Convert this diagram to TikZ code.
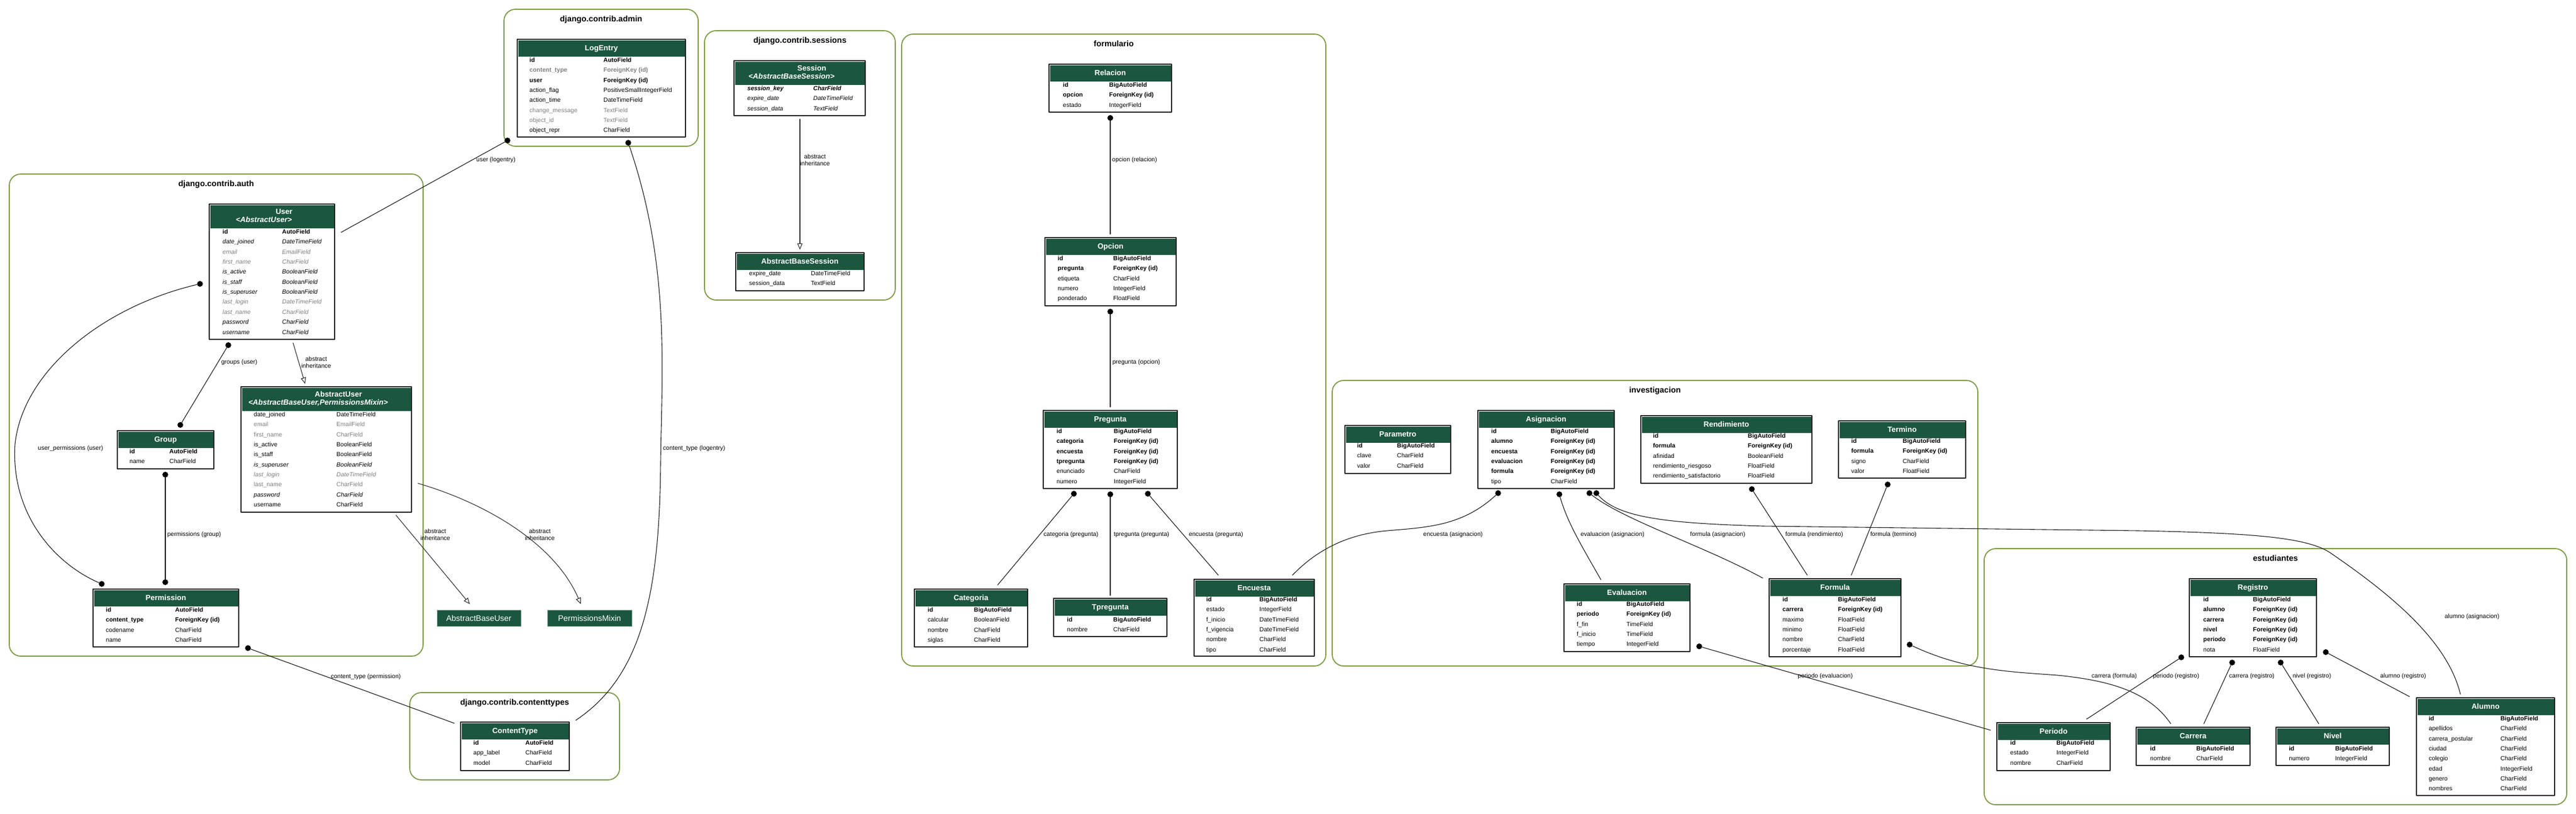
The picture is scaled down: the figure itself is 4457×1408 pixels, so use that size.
\documentclass[tikz,border=0pt]{standalone}
\usepackage{fontspec}
\setmainfont{Liberation Sans}
\usetikzlibrary{arrows.meta}

\definecolor{hdrgreen}{HTML}{1B563F}
\definecolor{clustergreen}{HTML}{7D9B45}
\definecolor{fieldgray}{HTML}{808080}
\definecolor{linkgray}{HTML}{1A1A1A}

\newcommand\rowf{\fontsize{10.5}{12}\selectfont}
\newcommand\hdrf{\fontsize{13}{14}\selectfont}
\newcommand\clf{\fontsize{14}{16}\selectfont\bfseries}

\tikzset{
  cluster/.style={draw=clustergreen, line width=1.8pt, rounded corners=20pt},
  cltitle/.style={anchor=base, inner sep=0, font=\clf},
  tblbox/.style={rectangle, draw={rgb,255:red,35;green,35;blue,35}, line width=1.8pt, fill=white, inner sep=0},
  hdrtxt/.style={anchor=base, inner sep=0, text=white, font=\hdrf\bfseries},
  plainbox/.style={rectangle, fill=hdrgreen, draw={rgb,255:red,120;green,160;blue,140}, line width=0.8pt, text=white, font=\fontsize{14}{16}\selectfont, inner sep=0},
  fld/.style={anchor=base west, inner sep=0},
  fnorm/.style={font=\rowf},
  fbold/.style={font=\rowf\bfseries},
  fital/.style={font=\rowf\itshape},
  fbital/.style={font=\rowf\bfseries\itshape},
  fgray/.style={font=\rowf, text=fieldgray},
  fgital/.style={font=\rowf\itshape, text=fieldgray},
  fgbold/.style={font=\rowf\bfseries, text=fieldgray},
  fkdot/.style={circle, fill=black, inner sep=0, minimum size=10pt},
  fklink/.style={draw=linkgray, line width=1.1pt},
  inhlink/.style={draw={rgb,255:red,50;green,50;blue,50}, line width=1.1pt, -{Triangle[open, length=11pt, width=9pt]}},
  lbl/.style={inner sep=0, font=\rowf, align=center}
}

% app frame: name, title, left, top, right, bottom
\newcommand\app[6]{%
  \draw[cluster] (#3,#4) rectangle (#5,#6);
  \node[cltitle] (#1) at ({(#3+#5)/2},#4+21) {#2};
}

% model box with one-line header: name, left, top, right, bottom, title
\newcommand\model[6]{%
  \node[tblbox, minimum width={#4-#2}, minimum height={#5-#3}] (#1) at ({(#2+#4)/2},{(#3+#5)/2}) {};
  \fill[hdrgreen] (#2+1.5,#3+1.5) rectangle (#4-1.5,#3+30);
  \node[hdrtxt] (#1-title) at ({(#2+#4)/2},#3+19) {#6};
}

% model box with parent in header
\newcommand\modelx[7]{%
  \node[tblbox, minimum width={#4-#2}, minimum height={#5-#3}] (#1) at ({(#2+#4)/2},{(#3+#5)/2}) {};
  \fill[hdrgreen] (#2+1.5,#3+1.5) rectangle (#4-1.5,#3+42);
  \node[hdrtxt] (#1-title) at ({(#2+#4)/2+21},#3+17.5) {#6};
  \node[hdrtxt, font=\hdrf\bfseries\itshape] (#1-parent) at ({(#2+#4)/2-14},#3+31.5) {<#7>};
}

% field rows: name, name column, type column, first row, fields
\newcommand\modelrows[5]{%
  \foreach \fst/\fname/\ftype [count=\i from 0] in {#5} {
    \node[fld, \fst] (#1-n\i) at (#2,{#4+\i*17.35+3.5}) {\fname};
    \node[fld, \fst] (#1-t\i) at (#3,{#4+\i*17.35+3.5}) {\ftype};
  }
}

\begin{document}
\begin{tikzpicture}[x=1pt, y=-1pt, line cap=round, line join=round]

    \useasboundingbox (0,0) rectangle (4457,1408);

    % Apps
    \app{admin}{django.contrib.admin}{872}{16}{1208}{253}
    \app{sessions}{django.contrib.sessions}{1219}{53}{1549}{519}
    \app{auth}{django.contrib.auth}{16}{301}{732}{1135}
    \app{contenttypes}{django.contrib.contenttypes}{709}{1198}{1072}{1349}
    \app{formulario}{formulario}{1560}{59}{2294}{1152}
    \app{investigacion}{investigacion}{2305}{658}{3422}{1152}
    \app{estudiantes}{estudiantes}{3433}{949}{4441}{1392}

    % django.contrib.admin
    \model{logentry}{895}{68}{1186}{237}{LogEntry}
    \modelrows{logentry}{916}{1044}{104}{fbold/id/AutoField, fgbold/content\_type/ForeignKey (id),
      fbold/user/ForeignKey (id), fnorm/action\_flag/PositiveSmallIntegerField,
      fnorm/action\_time/DateTimeField, fgray/change\_message/TextField,
      fgray/object\_id/TextField, fnorm/object\_repr/CharField}

    % django.contrib.sessions
    \modelx{session}{1270}{105}{1497}{200}{Session}{AbstractBaseSession}
    \modelrows{session}{1293}{1407}{153}{fbital/session\_key/CharField,
      fital/expire\_date/DateTimeField, fital/session\_data/TextField}
    \model{absbasesession}{1273}{437}{1495}{503}{AbstractBaseSession}
    \modelrows{absbasesession}{1296}{1403}{473}{fnorm/expire\_date/DateTimeField,
      fnorm/session\_data/TextField}

    % django.contrib.auth
    \modelx{user}{362}{353}{579}{587}{User}{AbstractUser}
    \modelrows{user}{385}{488}{401}{fbold/id/AutoField, fital/date\_joined/DateTimeField,
      fgital/email/EmailField, fgital/first\_name/CharField, fital/is\_active/BooleanField,
      fital/is\_staff/BooleanField, fital/is\_superuser/BooleanField,
      fgital/last\_login/DateTimeField, fgital/last\_name/CharField,
      fital/password/CharField, fital/username/CharField}
    \modelx{abstractuser}{417}{669}{712}{886}{AbstractUser}{AbstractBaseUser,PermissionsMixin}
    \modelrows{abstractuser}{439}{582}{717}{fnorm/date\_joined/DateTimeField,
      fgray/email/EmailField, fgray/first\_name/CharField, fnorm/is\_active/BooleanField,
      fnorm/is\_staff/BooleanField, fital/is\_superuser/BooleanField,
      fgital/last\_login/DateTimeField, fgray/last\_name/CharField,
      fital/password/CharField, fnorm/username/CharField}
    \model{group}{203}{745}{370}{811}{Group}
    \modelrows{group}{224}{293}{781}{fbold/id/AutoField, fnorm/name/CharField}
    \model{permission}{161}{1019}{413}{1119}{Permission}
    \modelrows{permission}{183}{303}{1055}{fbold/id/AutoField, fbold/content\_type/ForeignKey (id),
      fnorm/codename/CharField, fnorm/name/CharField}
    \node[plainbox, minimum width=145pt, minimum height=28pt] (absbaseuser) at (828.5,1069) {AbstractBaseUser};
    \node[plainbox, minimum width=146pt, minimum height=28pt] (permmixin) at (1020,1069) {PermissionsMixin};

    % django.contrib.contenttypes
    \model{contenttype}{797}{1249}{985}{1333}{ContentType}
    \modelrows{contenttype}{819}{909}{1285}{fbold/id/AutoField, fnorm/app\_label/CharField,
      fnorm/model/CharField}

    % formulario
    \model{relacion}{1815}{111}{2027}{194}{Relacion}
    \modelrows{relacion}{1839}{1919}{147}{fbold/id/BigAutoField, fbold/opcion/ForeignKey (id),
      fnorm/estado/IntegerField}
    \model{opcion}{1808}{411}{2035}{529}{Opcion}
    \modelrows{opcion}{1830}{1926}{447}{fbold/id/BigAutoField, fbold/pregunta/ForeignKey (id),
      fnorm/etiqueta/CharField, fnorm/numero/IntegerField, fnorm/ponderado/FloatField}
    \model{pregunta}{1805}{710}{2037}{845}{Pregunta}
    \modelrows{pregunta}{1828}{1927}{746}{fbold/id/BigAutoField, fbold/categoria/ForeignKey (id),
      fbold/encuesta/ForeignKey (id), fbold/tpregunta/ForeignKey (id),
      fnorm/enunciado/CharField, fnorm/numero/IntegerField}
    \model{categoria}{1582}{1019}{1778}{1119}{Categoria}
    \modelrows{categoria}{1605}{1685}{1055}{fbold/id/BigAutoField, fnorm/calcular/BooleanField,
      fnorm/nombre/CharField, fnorm/siglas/CharField}
    \model{tpregunta}{1823}{1035}{2019}{1101}{Tpregunta}
    \modelrows{tpregunta}{1846}{1926}{1072}{fbold/id/BigAutoField, fnorm/nombre/CharField}
    \model{encuesta}{2066}{1002}{2274}{1135}{Encuesta}
    \modelrows{encuesta}{2087}{2179}{1037}{fbold/id/BigAutoField, fnorm/estado/IntegerField,
      fnorm/f\_inicio/DateTimeField, fnorm/f\_vigencia/DateTimeField,
      fnorm/nombre/CharField, fnorm/tipo/CharField}

    % investigacion
    \model{parametro}{2327}{736}{2510}{819}{Parametro}
    \modelrows{parametro}{2348}{2417}{771}{fbold/id/BigAutoField, fnorm/clave/CharField,
      fnorm/valor/CharField}
    \model{asignacion}{2557}{710}{2793}{845}{Asignacion}
    \modelrows{asignacion}{2580}{2683}{746}{fbold/id/BigAutoField, fbold/alumno/ForeignKey (id),
      fbold/encuesta/ForeignKey (id), fbold/evaluacion/ForeignKey (id),
      fbold/formula/ForeignKey (id), fnorm/tipo/CharField}
    \model{evaluacion}{2706}{1010}{2924}{1127}{Evaluacion}
    \modelrows{evaluacion}{2728}{2814}{1045}{fbold/id/BigAutoField, fbold/periodo/ForeignKey (id),
      fnorm/f\_fin/TimeField, fnorm/f\_inicio/TimeField, fnorm/tiempo/IntegerField}
    \model{rendimiento}{2839}{719}{3135}{836}{Rendimiento}
    \modelrows{rendimiento}{2860}{3024}{754}{fbold/id/BigAutoField, fbold/formula/ForeignKey (id),
      fnorm/afinidad/BooleanField, fnorm/rendimiento\_riesgoso/FloatField,
      fnorm/rendimiento\_satisfactorio/FloatField}
    \model{termino}{3181}{728}{3401}{827}{Termino}
    \modelrows{termino}{3203}{3292}{763}{fbold/id/BigAutoField, fbold/formula/ForeignKey (id),
      fnorm/signo/CharField, fnorm/valor/FloatField}
    \model{formula}{3061}{1001}{3289}{1136}{Formula}
    \modelrows{formula}{3084}{3180}{1037}{fbold/id/BigAutoField, fbold/carrera/ForeignKey (id),
      fnorm/maximo/FloatField, fnorm/minimo/FloatField, fnorm/nombre/CharField,
      fnorm/porcentaje/FloatField}

    % estudiantes
    \model{registro}{3788}{1001}{4008}{1136}{Registro}
    \modelrows{registro}{3812}{3898}{1037}{fbold/id/BigAutoField, fbold/alumno/ForeignKey (id),
      fbold/carrera/ForeignKey (id), fbold/nivel/ForeignKey (id),
      fbold/periodo/ForeignKey (id), fnorm/nota/FloatField}
    \model{periodo}{3455}{1250}{3651}{1333}{Periodo}
    \modelrows{periodo}{3478}{3558}{1285}{fbold/id/BigAutoField, fnorm/estado/IntegerField,
      fnorm/nombre/CharField}
    \model{carrera}{3696}{1258}{3893}{1324}{Carrera}
    \modelrows{carrera}{3720}{3800}{1295}{fbold/id/BigAutoField, fnorm/nombre/CharField}
    \model{nivel}{3938}{1258}{4134}{1324}{Nivel}
    \modelrows{nivel}{3960}{4040}{1295}{fbold/id/BigAutoField, fnorm/numero/IntegerField}
    \model{alumno}{4181}{1207}{4420}{1376}{Alumno}
    \modelrows{alumno}{4202}{4326}{1243}{fbold/id/BigAutoField, fnorm/apellidos/CharField,
      fnorm/carrera\_postular/CharField, fnorm/ciudad/CharField, fnorm/colegio/CharField,
      fnorm/edad/IntegerField, fnorm/genero/CharField, fnorm/nombres/CharField}

    % Relation ends
    \node[fkdot] (d-log-user) at (878,243) {};
    \node[fkdot] (d-log-ct) at (1087,247) {};
    \node[fkdot] (d-user-perm) at (346,491) {};
    \node[fkdot] (d-user-grp) at (395,597) {};
    \node[fkdot] (d-grp-user) at (312,735) {};
    \node[fkdot] (d-grp-perm) at (286,821) {};
    \node[fkdot] (d-perm-grp) at (286,1007) {};
    \node[fkdot] (d-perm-user) at (176,1010) {};
    \node[fkdot] (d-perm-ct) at (429,1121) {};
    \node[fkdot] (d-rel-opc) at (1921,204) {};
    \node[fkdot] (d-opc-preg) at (1921,539) {};
    \node[fkdot] (d-preg-cat) at (1858,854) {};
    \node[fkdot] (d-preg-tpr) at (1921,855) {};
    \node[fkdot] (d-preg-enc) at (1986,854) {};
    \node[fkdot] (d-asig-enc) at (2592,853) {};
    \node[fkdot] (d-asig-eval) at (2698,855) {};
    \node[fkdot] (d-asig-form) at (2750,853) {};
    \node[fkdot] (d-asig-alu) at (2762,853) {};
    \node[fkdot] (d-rend-form) at (3031,846) {};
    \node[fkdot] (d-term-form) at (3266,838) {};
    \node[fkdot] (d-eval-per) at (2940,1118) {};
    \node[fkdot] (d-form-car) at (3304,1115) {};
    \node[fkdot] (d-reg-per) at (3774,1137) {};
    \node[fkdot] (d-reg-car) at (3862,1146) {};
    \node[fkdot] (d-reg-niv) at (3946,1146) {};
    \node[fkdot] (d-reg-alu) at (4024,1128) {};

    \coordinate (in-user-log) at (590,402);
    \coordinate (in-ct-log) at (996,1246);
    \coordinate (in-ct-perm) at (786,1251);
    \coordinate (in-opc-rel) at (1921,405);
    \coordinate (in-preg-opc) at (1921,704);
    \coordinate (in-cat-preg) at (1726,1012);
    \coordinate (in-tpr-preg) at (1921,1030);
    \coordinate (in-enc-preg) at (2108,995);
    \coordinate (in-enc-asig) at (2236,995);
    \coordinate (in-eval-asig) at (2770,1003);
    \coordinate (in-form-asig) at (3050,1000);
    \coordinate (in-form-rend) at (3127,995);
    \coordinate (in-form-term) at (3203,995);
    \coordinate (in-alu-asig) at (4257,1201);
    \coordinate (in-per-eval) at (3444,1263);
    \coordinate (in-car-form) at (3756,1252);
    \coordinate (in-per-reg) at (3610,1244);
    \coordinate (in-car-reg) at (3813,1252);
    \coordinate (in-niv-reg) at (4012,1252);
    \coordinate (in-alu-reg) at (4169,1205);

    % Foreign keys
    \draw[fklink] (d-log-user) -- (in-user-log);
    \draw[fklink] (d-log-ct) .. controls (1160,460) and (1145,640) .. (1143,800)
                             .. controls (1141,1030) and (1110,1170) .. (in-ct-log);
    \draw[fklink] (d-user-grp) -- (d-grp-user);
    \draw[fklink] (d-grp-perm) -- (d-perm-grp);
    \draw[fklink] (d-user-perm) .. controls (180,530) and (40,640) .. (26,768)
                                .. controls (18,890) and (95,975) .. (d-perm-user);
    \draw[fklink] (d-perm-ct) -- (in-ct-perm);
    \draw[fklink] (d-rel-opc) -- (in-opc-rel);
    \draw[fklink] (d-opc-preg) -- (in-preg-opc);
    \draw[fklink] (d-preg-cat) -- (in-cat-preg);
    \draw[fklink] (d-preg-tpr) -- (in-tpr-preg);
    \draw[fklink] (d-preg-enc) -- (in-enc-preg);
    \draw[fklink] (d-asig-enc) .. controls (2530,910) and (2470,912) .. (2400,918)
                               .. controls (2320,925) and (2270,960) .. (in-enc-asig);
    \draw[fklink] (d-asig-eval) .. controls (2712,905) and (2740,950) .. (in-eval-asig);
    \draw[fklink] (d-asig-form) .. controls (2810,900) and (2950,945) .. (in-form-asig);
    \draw[fklink] (d-asig-alu) .. controls (2800,895) and (2880,905) .. (3050,910) -- (3700,918)
                               .. controls (3900,922) and (3990,930) .. (4030,955)
                               .. controls (4140,1030) and (4235,1110) .. (in-alu-asig);
    \draw[fklink] (d-rend-form) -- (in-form-rend);
    \draw[fklink] (d-term-form) -- (in-form-term);
    \draw[fklink] (d-eval-per) -- (in-per-eval);
    \draw[fklink] (d-form-car) .. controls (3400,1160) and (3480,1162) .. (3560,1168)
                               .. controls (3660,1178) and (3720,1200) .. (in-car-form);
    \draw[fklink] (d-reg-per) -- (in-per-reg);
    \draw[fklink] (d-reg-car) -- (in-car-reg);
    \draw[fklink] (d-reg-niv) -- (in-niv-reg);
    \draw[fklink] (d-reg-alu) -- (in-alu-reg);

    % Abstract inheritance
    \coordinate (s-user-abs) at (507,593);
    \coordinate (t-abs-user) at (528,664);
    \coordinate (s-abs-abu) at (685,891);
    \coordinate (t-abu) at (813,1045);
    \coordinate (s-abs-pm) at (723,836);
    \coordinate (t-pm) at (1005,1045);
    \coordinate (s-ses-abs) at (1384,206);
    \coordinate (t-abs-ses) at (1384,432);
    \draw[inhlink] (s-user-abs) -- (t-abs-user);
    \draw[inhlink] (s-abs-abu) -- (t-abu);
    \draw[inhlink] (s-abs-pm) .. controls (840,870) and (960,940) .. (t-pm);
    \draw[inhlink] (s-ses-abs) -- (t-abs-ses);

    % Labels
    \node[lbl] (l-log-user) at (858,277) {user (logentry)};
    \node[lbl, anchor=west] (l-log-ct) at (1147,776) {content\_type (logentry)};
    \node[lbl] (l-user-grp) at (414,627) {groups (user)};
    \node[lbl] (l-grp-perm) at (336,925) {permissions (group)};
    \node[lbl] (l-user-perm) at (122,776) {user\_permissions (user)};
    \node[lbl] (l-perm-ct) at (633,1171) {content\_type (permission)};
    \node[lbl] (l-inh-user) at (547,627) {abstract\\inheritance};
    \node[lbl] (l-inh-abu) at (753,925) {abstract\\inheritance};
    \node[lbl] (l-inh-pm) at (934,925) {abstract\\inheritance};
    \node[lbl] (l-inh-ses) at (1410,277) {abstract\\inheritance};
    \node[lbl] (l-rel-opc) at (1963,277) {opcion (relacion)};
    \node[lbl] (l-opc-preg) at (1966,627) {pregunta (opcion)};
    \node[lbl] (l-preg-cat) at (1853,925) {categoria (pregunta)};
    \node[lbl] (l-preg-tpr) at (1975,925) {tpregunta (pregunta)};
    \node[lbl] (l-preg-enc) at (2104,925) {encuesta (pregunta)};
    \node[lbl] (l-asig-enc) at (2514,925) {encuesta (asignacion)};
    \node[lbl] (l-asig-eval) at (2790,925) {evaluacion (asignacion)};
    \node[lbl] (l-asig-form) at (2972,925) {formula (asignacion)};
    \node[lbl] (l-rend-form) at (3139,925) {formula (rendimiento)};
    \node[lbl] (l-term-form) at (3276,925) {formula (termino)};
    \node[lbl] (l-asig-alu) at (4277,1067) {alumno (asignacion)};
    \node[lbl] (l-eval-per) at (3158,1170) {periodo (evaluacion)};
    \node[lbl] (l-form-car) at (3658,1170) {carrera (formula)};
    \node[lbl] (l-reg-per) at (3765,1170) {periodo (registro)};
    \node[lbl] (l-reg-car) at (3896,1170) {carrera (registro)};
    \node[lbl] (l-reg-niv) at (4000,1170) {nivel (registro)};
    \node[lbl] (l-reg-alu) at (4158,1170) {alumno (registro)};

\end{tikzpicture}
\end{document}
